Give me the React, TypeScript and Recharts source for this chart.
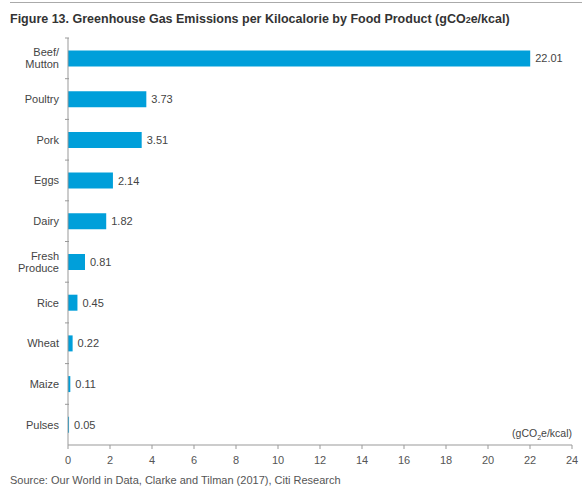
import React from 'react';
import { BarChart, Bar, XAxis, YAxis, LabelList } from 'recharts';

const foods = ['Beef/\nMutton', 'Poultry', 'Pork', 'Eggs', 'Dairy', 'Fresh\nProduce', 'Rice', 'Wheat', 'Maize', 'Pulses'];
const emissions = [22.01, 3.73, 3.51, 2.14, 1.82, 0.81, 0.45, 0.22, 0.11, 0.05];
const xTicks = [0, 2, 4, 6, 8, 10, 12, 14, 16, 18, 20, 22, 24];

const data = foods.map((name, i) => ({ name, value: emissions[i] }));

const font = '"Liberation Sans", Arial, sans-serif';

const CategoryTick = (props: any) => {
    const { x, y, payload } = props;
    const lines = String(payload.value).split('\n');
    const lh = 12;
    const start = y - ((lines.length - 1) * lh) / 2 + 4;
    return (
        <g>
            <line x1={x + 5} x2={x + 9} y1={y - 20.35} y2={y - 20.35} stroke="#999" />
            <text textAnchor="end" fontSize={11} fill="#444" fontFamily={font}>
                {lines.map((l, i) => (
                    <tspan key={i} x={x - 1} y={start + i * lh}>{l}</tspan>
                ))}
            </text>
        </g>
    );
};

const App: React.FC = () => {
    return (
        <div style={{ position: 'absolute', left: 0, top: 0, width: 582, height: 492, background: '#fff', fontFamily: font }}>
            <div style={{ position: 'absolute', left: 10, right: 0, top: 2, borderTop: '1px solid #aaa' }} />
            <div style={{ position: 'absolute', left: 10, top: 12, fontSize: 12.5, fontWeight: 'bold', color: '#333', whiteSpace: 'nowrap' }}>
                Figure 13. Greenhouse Gas Emissions per Kilocalorie by Food Product (gCO<span style={{ fontSize: 9 }}>2</span>e/kcal)
            </div>
            <BarChart
                width={582}
                height={492}
                data={data}
                layout="vertical"
                margin={{ top: 38, right: 10, bottom: 17, left: 0 }}
                barCategoryGap={12.5}
            >
                <XAxis
                    type="number"
                    domain={[0, 24]}
                    ticks={xTicks}
                    stroke="#999"
                    tickSize={4}
                    tickMargin={7}
                    height={30}
                    tick={{ fill: '#555', fontSize: 11, fontFamily: font }}
                />
                <YAxis
                    type="category"
                    dataKey="name"
                    width={68}
                    stroke="#999"
                    tickLine={false}
                    tick={<CategoryTick />}
                    interval={0}
                />
                <Bar dataKey="value" fill="#009fda" isAnimationActive={false}>
                    <LabelList dataKey="value" position="right" fill="#444" fontSize={11} fontFamily={font} formatter={(v: any) => Number(v).toFixed(2)} />
                </Bar>
            </BarChart>
            <div style={{ position: 'absolute', right: 10, top: 427, fontSize: 10.5, color: '#444' }}>
                (gCO<sub style={{ fontSize: 7 }}>2</sub>e/kcal)
            </div>
            <div style={{ position: 'absolute', left: 10, top: 474, fontSize: 11, color: '#555' }}>
                Source: Our World in Data, Clarke and Tilman (2017), Citi Research
            </div>
        </div>
    );
};

export default App;
